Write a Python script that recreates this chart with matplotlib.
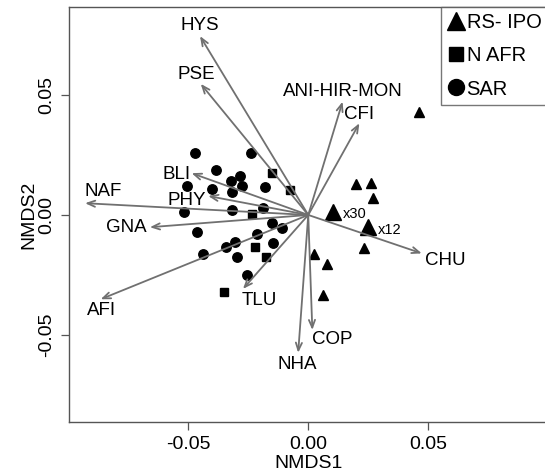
import numpy as np
import matplotlib
matplotlib.use("Agg")
import matplotlib.pyplot as plt
from matplotlib.lines import Line2D

plt.rcParams['font.family'] = ['Liberation Sans', 'DejaVu Sans']

# site scores (NMDS1, NMDS2)
sar_x = [-0.0472, -0.0240, -0.0386, -0.0285, -0.0323, -0.0278, -0.0180, -0.0504,
         -0.0403, -0.0317, -0.0518, -0.0319, -0.0188, -0.0150, -0.0111, -0.0465,
         -0.0215, -0.0305, -0.0344, -0.0146, -0.0438, -0.0298, -0.0257]
sar_y = [0.0260, 0.0260, 0.0188, 0.0164, 0.0143, 0.0121, 0.0118, 0.0121,
         0.0108, 0.0097, 0.0014, 0.0021, 0.0030, -0.0035, -0.0055, -0.0070,
         -0.0079, -0.0111, -0.0132, -0.0115, -0.0164, -0.0174, -0.0250]

nafr_x = [-0.0153, -0.0076, -0.0233, -0.0221, -0.0178, -0.0350]
nafr_y = [0.0174, 0.0104, 0.0004, -0.0135, -0.0174, -0.0322]

rs_x = [0.0198, 0.0261, 0.0268, 0.0233, 0.0024, 0.0077, 0.0060, 0.0461]
rs_y = [0.0129, 0.0135, 0.0072, -0.0136, -0.0163, -0.0204, -0.0333, 0.0428]

# overlapping sites (drawn bigger, with count)
multi_x = [0.0102, 0.0250]
multi_y = [0.0014, -0.0049]
multi_lab = ['x30', 'x12']

# fitted species vectors
vec_names = ['HYS', 'PSE', 'ANI-HIR-MON', 'CFI', 'BLI', 'PHY', 'NAF', 'GNA',
             'AFI', 'TLU', 'COP', 'NHA', 'CHU']
vec_x = [-0.0451, -0.0448, 0.0143, 0.0213, -0.0486, -0.0417, -0.0930, -0.0660,
         -0.0865, -0.0272, 0.0017, -0.0042, 0.0473]
vec_y = [0.0745, 0.0546, 0.0472, 0.0382, 0.0174, 0.0079, 0.0049, -0.0051,
         -0.0351, -0.0308, -0.0479, -0.0574, -0.0160]

# label offsets (points) from arrow tips
lab_off = [(0, 7.7), (-2.9, 6.5), (0, 7.3), (0, 6.3), (-11, -1.2), (-15.6, -2.9),
           (13.2, 8.4), (-16.8, 0), (0.7, -8.3), (12, -8.5), (14.2, -7.2),
           (-1, -8.1), (16.6, -5.4)]

fig = plt.figure(figsize=(5.45, 4.76), dpi=100)
ax = fig.add_axes([0.1266, 0.1141, 0.878, 0.8706])

arrow_col = '#707070'
for name, vx, vy, off in zip(vec_names, vec_x, vec_y, lab_off):
    ax.annotate('', xy=(vx, vy), xytext=(0, 0),
                arrowprops=dict(arrowstyle='->,head_length=0.55,head_width=0.22',
                                color=arrow_col, lw=1.3, shrinkA=0, shrinkB=0))
    ax.annotate(name, xy=(vx, vy), xytext=off, textcoords='offset points',
                ha='center', va='center', fontsize=13.5, color='black')

ax.plot(sar_x, sar_y, 'o', color='black', markersize=6.8, linestyle='none')
ax.plot(nafr_x, nafr_y, 's', color='black', markersize=6, linestyle='none')
ax.plot(rs_x, rs_y, '^', color='black', markersize=7, linestyle='none')
ax.plot(multi_x, multi_y, '^', color='black', markersize=11.5, linestyle='none')
for mx, my, ml in zip(multi_x, multi_y, multi_lab):
    ax.annotate(ml, xy=(mx, my), xytext=(7, -2), textcoords='offset points',
                ha='left', va='center', fontsize=10.5)

ax.set_xlim(-0.0997, 0.0997)
ax.set_ylim(-0.0861, 0.0865)
ax.set_xticks([-0.05, 0.0, 0.05])
ax.set_yticks([-0.05, 0.0, 0.05])
ax.set_xticklabels(['-0.05', '0.00', '0.05'])
ax.set_yticklabels(['-0.05', '0.00', '0.05'], rotation=90, va='center')
ax.tick_params(direction='out', length=6, width=0.9, color='#555555',
               labelsize=14, pad=4)
for sp in ax.spines.values():
    sp.set_color('#555555')
    sp.set_linewidth(1.0)
ax.set_xlabel('NMDS1', fontsize=14, labelpad=1.5)
ax.set_ylabel('NMDS2', fontsize=14, labelpad=0.5)

handles = [Line2D([], [], marker='^', color='black', linestyle='none', markersize=12.5),
           Line2D([], [], marker='s', color='black', linestyle='none', markersize=10),
           Line2D([], [], marker='o', color='black', linestyle='none', markersize=11.5)]
leg = ax.legend(handles, ['RS- IPO', 'N AFR', 'SAR'], loc='upper right',
                fontsize=14.5, frameon=True, fancybox=False, borderaxespad=0,
                handlelength=0.85, handletextpad=0.1, borderpad=0.3,
                labelspacing=0.7)
leg.get_frame().set_edgecolor('#555555')
leg.get_frame().set_linewidth(1.0)

fig.savefig('out.png', dpi=100)
